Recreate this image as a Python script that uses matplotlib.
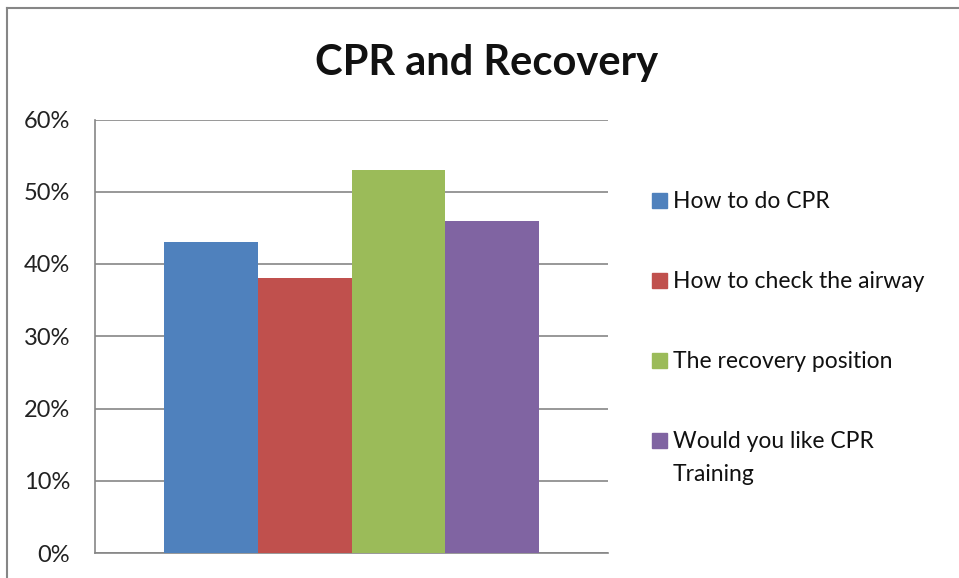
import numpy as np
import matplotlib.pyplot as plt
from matplotlib.patches import Rectangle
from matplotlib.lines import Line2D

plt.rcParams['font.family'] = ['Lato', 'DejaVu Sans']

# data
labels = ['How to do CPR', 'How to check the airway', 'The recovery position',
          'Would you like CPR\nTraining']
values = [43, 38, 53, 46]
colors = ['#4F81BD', '#C0504D', '#9BBB59', '#8064A2']
yticks = [0, 10, 20, 30, 40, 50, 60]

W, H = 959, 578
fig = plt.figure(figsize=(W / 100, H / 100), dpi=100)

# axes placed in pixel coords of the reference
left, right, top, bottom = 95, 608, 119.5, 553
ax = fig.add_axes([left / W, 1 - bottom / H, (right - left) / W, (bottom - top) / H])

x = np.arange(len(values))
ax.bar(x, values, width=1.0, color=colors, zorder=3)

ax.set_ylim(0, 60)
ax.set_xlim(-1.236, 4.236)
ax.set_yticks(yticks)
ax.set_yticklabels([f'{v}%' for v in yticks], fontsize=17, color='#222222')
ax.set_xticks([])
ax.tick_params(axis='y', length=0, pad=18)
ax.grid(axis='y', color='#868686', linewidth=1.2, zorder=0)
for s in ['top', 'right']:
    ax.spines[s].set_visible(False)
for s in ['left', 'bottom']:
    ax.spines[s].set_color('#868686')
    ax.spines[s].set_linewidth(1.2)

fig.text(487 / W, 1 - 75 / H, 'CPR and Recovery', ha='center', va='baseline',
         fontsize=30, fontweight='bold', color='#111111')

# legend drawn by hand, baselines in pixels
leg_base = [208, 288, 368, 448]
line_gap = 33
for yb, lab, c in zip(leg_base, labels, colors):
    fig.patches.append(Rectangle((652 / W, 1 - yb / H), 15 / W, 15 / H,
                                 transform=fig.transFigure, color=c))
    for k, part in enumerate(lab.split('\n')):
        fig.text(673 / W, 1 - (yb + k * line_gap) / H, part, ha='left',
                 va='baseline', fontsize=16.5, color='#111111')

# outer chart border (top and left visible)
fig.add_artist(Line2D([7 / W, 1], [1 - 7.5 / H, 1 - 7.5 / H], color='#868686', lw=1.5))
fig.add_artist(Line2D([7 / W, 7 / W], [0, 1 - 7.5 / H], color='#868686', lw=1.5))

fig.savefig('out.png', dpi=100)
